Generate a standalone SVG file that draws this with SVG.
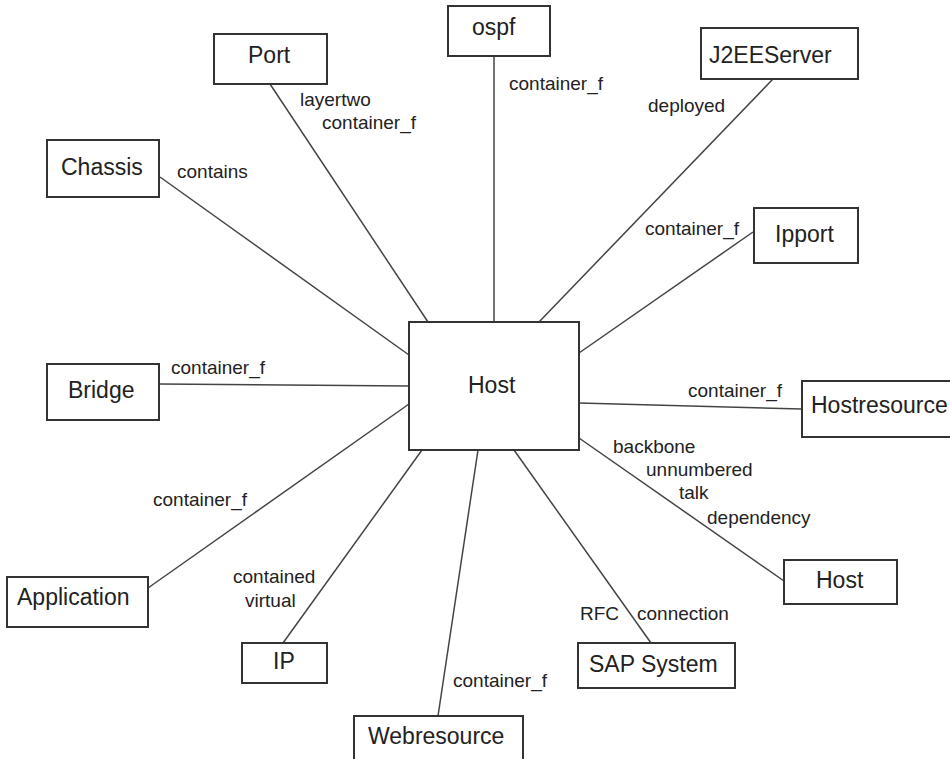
<svg xmlns="http://www.w3.org/2000/svg" width="950" height="759" viewBox="0 0 950 759">
<style>
.box{fill:#fff;stroke:#333;stroke-width:2}
.nt{font-family:"Liberation Sans",Arial,sans-serif;font-size:23px;fill:#222}
.lt{font-family:"Liberation Sans",Arial,sans-serif;font-size:19px;fill:#222}
.edge{stroke:#444;stroke-width:1.5;fill:none}
</style>
<rect width="950" height="759" fill="#fff"/>
<g id="connectors">
<line class="edge" x1="160" y1="177" x2="409" y2="355"/>
<line class="edge" x1="270" y1="84" x2="428" y2="322"/>
<line class="edge" x1="494" y1="56" x2="494" y2="322"/>
<line class="edge" x1="773" y1="79" x2="539" y2="322"/>
<line class="edge" x1="753" y1="232" x2="579" y2="353"/>
<line class="edge" x1="159" y1="384" x2="409" y2="386"/>
<line class="edge" x1="579" y1="403" x2="802" y2="409"/>
<line class="edge" x1="579" y1="438" x2="784" y2="581"/>
<line class="edge" x1="514" y1="450" x2="651" y2="643"/>
<line class="edge" x1="478" y1="450" x2="438" y2="716"/>
<line class="edge" x1="422" y1="450" x2="283" y2="643"/>
<line class="edge" x1="409" y1="404" x2="148" y2="588"/>
<text class="lt" x="177" y="178">contains</text>
<text class="lt" x="300" y="106">layertwo</text>
<text class="lt" x="322" y="129">container_f</text>
<text class="lt" x="509" y="90">container_f</text>
<text class="lt" x="648" y="112">deployed</text>
<text class="lt" x="645" y="235">container_f</text>
<text class="lt" x="171" y="374">container_f</text>
<text class="lt" x="688" y="397">container_f</text>
<text class="lt" x="613" y="453">backbone</text>
<text class="lt" x="646" y="476">unnumbered</text>
<text class="lt" x="679" y="499">talk</text>
<text class="lt" x="707" y="524">dependency</text>
<text class="lt" x="580" y="620">RFC</text>
<text class="lt" x="637" y="620">connection</text>
<text class="lt" x="453" y="687">container_f</text>
<text class="lt" x="233" y="583">contained</text>
<text class="lt" x="245" y="607">virtual</text>
<text class="lt" x="153" y="506">container_f</text>
</g>
<g id="port"><rect class="box" x="214" y="34" width="113" height="50"/><text class="nt" x="248" y="63">Port</text></g>
<g id="chassis"><rect class="box" x="47" y="140" width="112" height="57"/><text class="nt" x="61" y="175">Chassis</text></g>
<g id="ospf"><rect class="box" x="448" y="6" width="102" height="50"/><text class="nt" x="472" y="35">ospf</text></g>
<g id="j2eeserver"><rect class="box" x="701" y="28" width="157" height="51"/><text class="nt" x="709" y="63">J2EEServer</text></g>
<g id="ipport"><rect class="box" x="754" y="208" width="104" height="55"/><text class="nt" x="775" y="242">Ipport</text></g>
<g id="host"><rect class="box" x="409" y="322" width="170" height="128"/><text class="nt" x="468" y="393">Host</text></g>
<g id="bridge"><rect class="box" x="47" y="364" width="112" height="56"/><text class="nt" x="68" y="398">Bridge</text></g>
<g id="hostresource"><rect class="box" x="802" y="381" width="160" height="56"/><text class="nt" x="811" y="413">Hostresource</text></g>
<g id="host2"><rect class="box" x="784" y="560" width="113" height="44"/><text class="nt" x="816" y="588">Host</text></g>
<g id="sapsystem"><rect class="box" x="578" y="643" width="157" height="45"/><text class="nt" x="589" y="672">SAP System</text></g>
<g id="ip"><rect class="box" x="242" y="643" width="85" height="40"/><text class="nt" x="273" y="669">IP</text></g>
<g id="application"><rect class="box" x="7" y="577" width="141" height="50"/><text class="nt" x="17" y="605">Application</text></g>
<g id="webresource"><rect class="box" x="354" y="716" width="169" height="60"/><text class="nt" x="368" y="744">Webresource</text></g>
</svg>
